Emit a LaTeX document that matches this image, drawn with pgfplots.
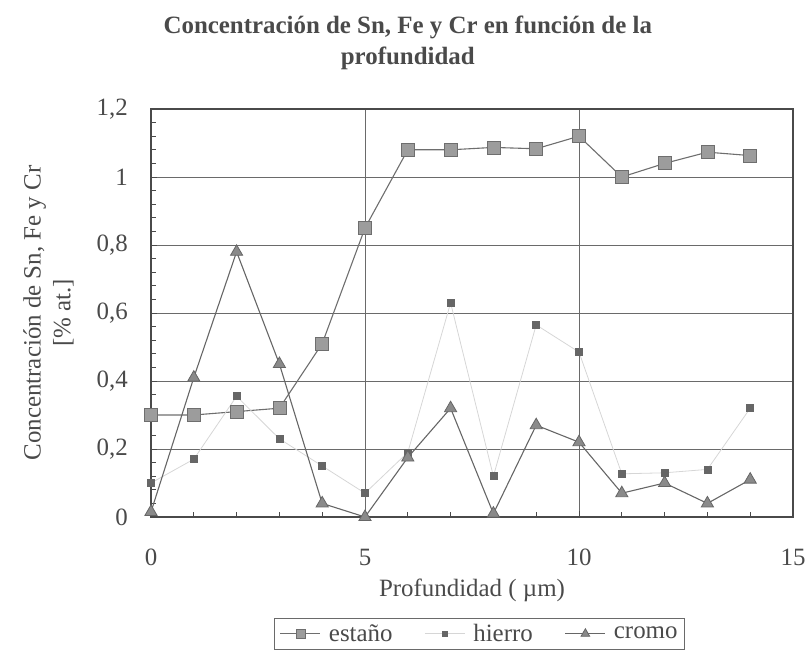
\documentclass[border=0pt]{standalone}
\usepackage{fontspec}
\setmainfont{Liberation Serif}
\usepackage{pgfplots}
\pgfplotsset{compat=1.18}

\definecolor{ink}{HTML}{4A4A4A}
\definecolor{gridc}{HTML}{6A6A6A}
\definecolor{snline}{HTML}{6E6E6E}
\definecolor{snfill}{HTML}{9C9C9C}
\definecolor{feline}{HTML}{D6D6D6}
\definecolor{femark}{HTML}{666666}
\definecolor{crline}{HTML}{666666}
\definecolor{crfill}{HTML}{8A8A8A}

\begin{document}
\begin{tikzpicture}
\useasboundingbox (-151bp,-140bp) rectangle (659bp,517bp);
\begin{axis}[
  scale only axis, width=642bp, height=408bp,
  at={(0,0)}, anchor=south west,
  xmin=0, xmax=15, ymin=0, ymax=1.2,
  xtick={0,5,10,15}, minor x tick num=4,
  ytick={0,0.2,0.4,0.6,0.8,1,1.2}, minor y tick num=4,
  tick align=inside, tick pos=left,
  major tick length=6bp, minor tick length=5bp,
  xmajorgrids, ymajorgrids,
  major grid style={gridc, line width=0.9bp},
  axis line style={ink, line width=1.1bp},
  tick style={ink, line width=0.8bp},
  font=\fontsize{25}{30}\selectfont,
  every tick label/.append style={inner sep=0pt, ink},
  xticklabel style={yshift=-32bp},
  yticklabel style={xshift=-23bp},
  /pgf/number format/use comma,
  /pgf/number format/assume math mode=true,
  title={\bfseries Concentración de Sn, Fe y Cr en función de la\\\bfseries profundidad},
  title style={at={(axis description cs:0.40,1)}, anchor=south, yshift=33bp,
    inner sep=0pt, align=center, ink, font=\fontsize{25}{31}\selectfont},
  xlabel={Profundidad ( µm)},
  xlabel style={at={(axis description cs:0.5,0)}, anchor=north, yshift=-62bp,
    inner sep=0pt, ink},
  ylabel={Concentración de Sn, Fe y Cr\\{[}\% at.{]}},
  ylabel style={at={(axis description cs:-0.12,0.5)}, anchor=south, rotate=0,
    inner sep=0pt, align=center, ink, font=\fontsize{25}{30}\selectfont},
  legend columns=3,
  legend image code/.code={%
    \draw[mark repeat=2, mark phase=2, #1]
      plot coordinates {(0bp,0bp) (20bp,0bp) (40bp,0bp)};},
  legend style={at={(axis description cs:0.512,0)}, anchor=north, yshift=-101bp,
    draw=gridc, line width=0.8bp, text=ink, inner ysep=4bp, inner xsep=5bp,
    font=\fontsize{25}{30}\selectfont,
    /tikz/every odd column/.append style={column sep=6bp},
    /tikz/every even column/.append style={column sep=30bp}},
]
% estaño
\addplot[snline, line width=1.1bp, mark=square*, mark size=6.5bp,
  mark options={fill=snfill, draw=snline, line width=0.8bp},
  legend image post style={mark size=4.5bp}]
  coordinates {(0,0.30) (1,0.30) (2,0.31) (3,0.32) (4,0.51) (5,0.85)
    (6,1.08) (7,1.08) (8,1.087) (9,1.083) (10,1.12) (11,1.00)
    (12,1.04) (13,1.073) (14,1.063)};
\addlegendentry{estaño}
% hierro
\addplot[feline, line width=0.8bp, mark=square*, mark size=3.5bp,
  mark options={fill=femark, draw=femark},
  legend image post style={mark size=2.5bp}]
  coordinates {(0,0.10) (1,0.17) (2,0.355) (3,0.23) (4,0.15) (5,0.07)
    (6,0.19) (7,0.63) (8,0.12) (9,0.565) (10,0.485) (11,0.127)
    (12,0.13) (13,0.14) (14,0.32)};
\addlegendentry{hierro}
% cromo
\addplot[crline, line width=1.1bp, mark=triangle*, mark size=7bp,
  mark options={fill=crfill, draw=crline, line width=0.8bp},
  legend image post style={mark size=5bp}]
  coordinates {(0,0.015) (1,0.41) (2,0.78) (3,0.45) (4,0.04) (5,0.0)
    (6,0.175) (7,0.32) (8,0.01) (9,0.27) (10,0.22) (11,0.07)
    (12,0.10) (13,0.04) (14,0.11)};
\addlegendentry{cromo}
\end{axis}
\end{tikzpicture}
\end{document}
